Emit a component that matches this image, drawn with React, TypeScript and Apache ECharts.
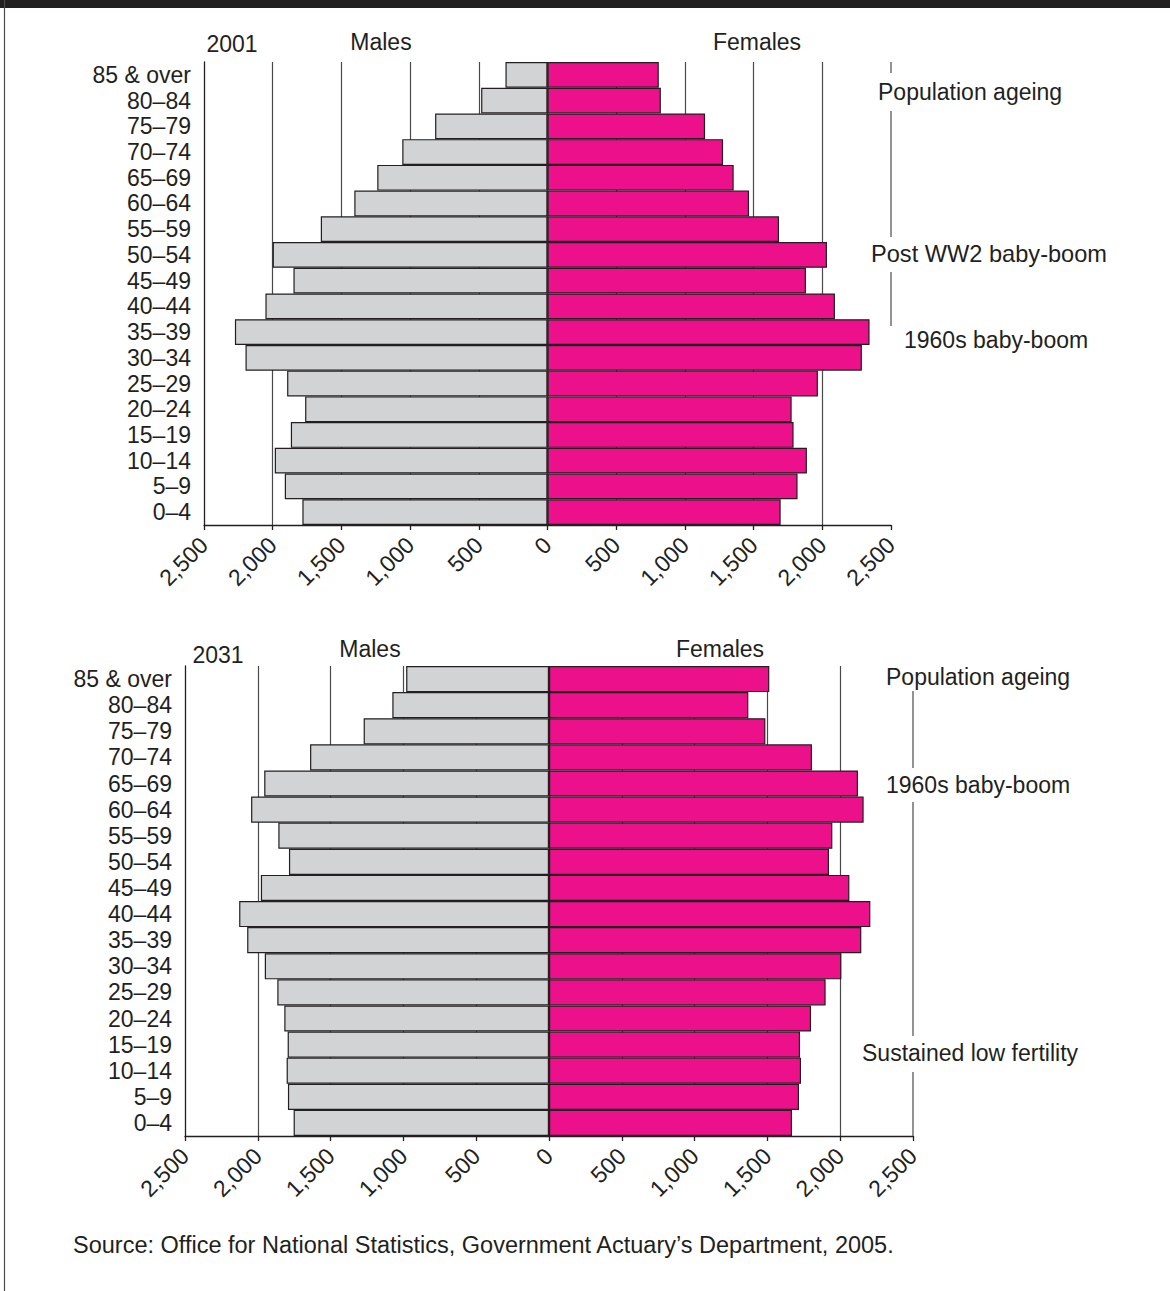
import React, { useEffect, useRef } from "react";
import * as echarts from "echarts";

const ages = ["0–4", "5–9", "10–14", "15–19", "20–24", "25–29", "30–34", "35–39", "40–44", "45–49", "50–54", "55–59", "60–64", "65–69", "70–74", "75–79", "80–84", "85 & over"];

const males2001 = [1784, 1912, 1985, 1868, 1764, 1895, 2198, 2275, 2053, 1849, 2000, 1650, 1406, 1239, 1057, 818, 483, 306];
const females2001 = [1697, 1820, 1888, 1791, 1777, 1968, 2288, 2344, 2092, 1881, 2034, 1685, 1467, 1355, 1278, 1147, 825, 810];
const males2031 = [1754, 1793, 1802, 1795, 1818, 1866, 1952, 2073, 2128, 1979, 1786, 1859, 2046, 1956, 1641, 1273, 1076, 981];
const females2031 = [1669, 1717, 1731, 1724, 1800, 1900, 2008, 2145, 2207, 2063, 1923, 1946, 2161, 2122, 1806, 1486, 1369, 1513];

const axisMin = -2500;
const axisMax = 2500;
const axisStep = 500;

const FONT = "'Liberation Sans', Arial, sans-serif";
const INK = "#231f20";
const MALE = "#d1d3d4";
const FEMALE = "#ec108a";

function fmt(v: number) {
  return Math.abs(v).toLocaleString("en-US");
}

function xAxisCfg(gridIndex: number) {
  return {
    type: "value",
    gridIndex,
    min: axisMin,
    max: axisMax,
    interval: axisStep,
    axisLine: { show: true, onZero: false, lineStyle: { color: INK, width: 1.3 } },
    axisTick: { show: true, length: 5, lineStyle: { color: INK, width: 1.3 } },
    axisLabel: {
      rotate: 45,
      fontSize: 23,
      fontFamily: FONT,
      color: INK,
      margin: 16,
      formatter: (v: number) => fmt(v),
    },
    splitLine: {
      show: true,
      showMinLine: false,
      showMaxLine: false,
      lineStyle: { color: "#4a4a4a", width: 1.2 },
    },
  };
}

function yAxisCfg(gridIndex: number) {
  return {
    type: "category",
    gridIndex,
    data: ages,
    axisLine: { show: true, onZero: false, lineStyle: { color: INK, width: 1.3 } },
    axisTick: { show: false },
    axisLabel: { interval: 0, fontSize: 23, fontFamily: FONT, color: INK, margin: 13, padding: [0, 0, 7, 0] },
    splitLine: { show: false },
  };
}

function barSeries(idx: number, stack: string, data: number[], color: string, negate: boolean) {
  return {
    type: "bar",
    xAxisIndex: idx,
    yAxisIndex: idx,
    stack,
    data: data.map((v) => (negate ? -v : v)),
    barCategoryGap: "0%",
    itemStyle: { color, borderColor: INK, borderWidth: 1.2 },
    emphasis: { disabled: true },
  };
}

function txt(text: string, x: number, y: number, align = "center", size = 23) {
  return {
    type: "text",
    z: 100,
    style: {
      text,
      x,
      y,
      fontSize: size,
      fontFamily: FONT,
      fill: INK,
      align,
      textAlign: align,
      verticalAlign: "middle",
      textVerticalAlign: "middle",
    },
  };
}

function vline(x: number, y1: number, y2: number) {
  return {
    type: "line",
    z: 100,
    shape: { x1: x, y1, x2: x, y2 },
    style: { stroke: "#4a4a4a", lineWidth: 1.2 },
  };
}

export default function App() {
  const ref = useRef<HTMLDivElement>(null);
  useEffect(() => {
    if (!ref.current) return;
    const chart = echarts.init(ref.current, null, { renderer: "svg" });
    chart.setOption({
      animation: false,
      backgroundColor: "#ffffff",
      grid: [
        { left: 204, top: 62, width: 687, height: 463 },
        { left: 185, top: 666, width: 728, height: 470 },
      ],
      xAxis: [xAxisCfg(0), xAxisCfg(1)],
      yAxis: [yAxisCfg(0), yAxisCfg(1)],
      series: [
        barSeries(0, "p1", males2001, MALE, true),
        barSeries(0, "p1", females2001, FEMALE, false),
        barSeries(1, "p2", males2031, MALE, true),
        barSeries(1, "p2", females2031, FEMALE, false),
      ],
    });
    const xr1 = chart.convertToPixel({ xAxisIndex: 0 } as any, axisMax) as number;
    const xr2 = chart.convertToPixel({ xAxisIndex: 1 } as any, axisMax) as number;
    chart.setOption({
      graphic: {
        elements: [
          { type: "rect", shape: { x: 0, y: 0, width: 1170, height: 8 }, style: { fill: INK }, z: 100 },
          vline(4.5, 0, 1291),
          // chart 1 right bracket
          vline(xr1, 62, 73),
          vline(xr1, 111, 237),
          vline(xr1, 272, 326),
          // chart 2 right bracket
          vline(xr2, 691, 768),
          vline(xr2, 802, 1036),
          vline(xr2, 1072, 1136),
          txt("2001", 232, 44),
          txt("Males", 381, 42),
          txt("Females", 757, 42),
          txt("Population ageing", 878, 92, "left"),
          txt("Post WW2 baby-boom", 871, 254, "left", 23.6),
          txt("1960s baby-boom", 904, 340, "left"),
          txt("2031", 218, 655),
          txt("Males", 370, 649),
          txt("Females", 720, 649),
          txt("Population ageing", 886, 677, "left"),
          txt("1960s baby-boom", 886, 785, "left"),
          txt("Sustained low fertility", 862, 1053, "left"),
          txt("Source: Office for National Statistics, Government Actuary’s Department, 2005.", 73, 1245, "left", 23.5),
        ],
      },
    });
    return () => chart.dispose();
  }, []);
  return (
    <div
      ref={ref}
      style={{ position: "absolute", left: 0, top: 0, width: 1170, height: 1291 }}
    />
  );
}
